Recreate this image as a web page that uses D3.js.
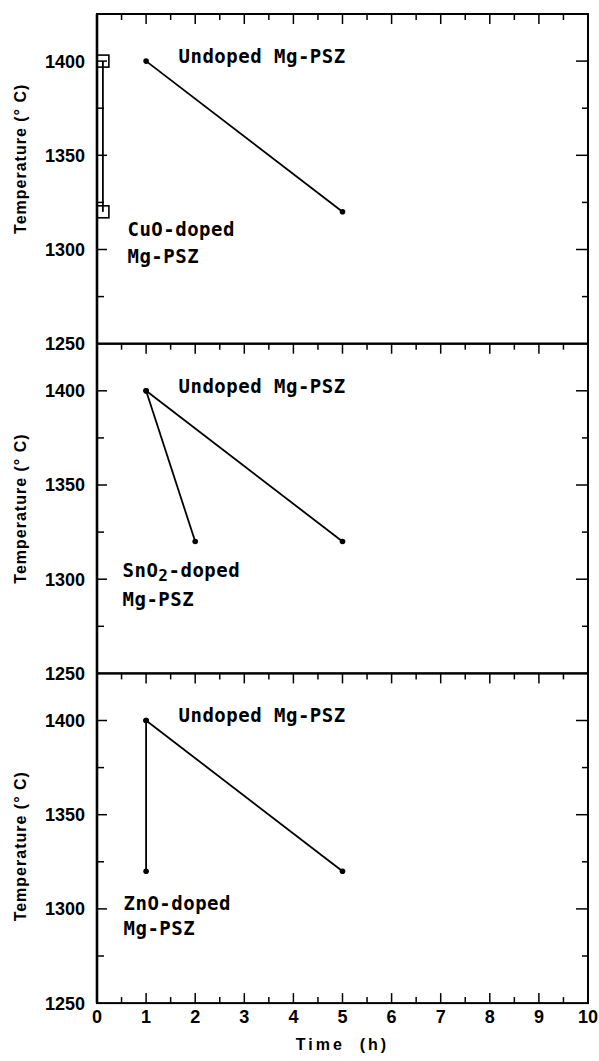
<!DOCTYPE html>
<html>
<head>
<meta charset="utf-8">
<script src="https://cdn.jsdelivr.net/npm/d3@7"></script>
<style>
  body { margin: 0; background: #fff; }
  svg { display: block; }
  .tick-num { font-family: 'Liberation Sans', Arial, sans-serif; font-weight: bold; font-size: 18px; }
  .title { font-family: 'Liberation Sans', Arial, sans-serif; font-weight: bold; font-size: 16px; }
  .note { font-family: 'DejaVu Sans Mono', monospace; font-weight: bold; font-size: 19px; letter-spacing: 0.5px; }
</style>
</head>
<body>
<div id="chart"></div>
<script>
// data
const timeTicks = [0, 1, 2, 3, 4, 5, 6, 7, 8, 9, 10];
const tempTicks = [1250, 1300, 1350, 1400];
const undopedTime = [1, 5];
const undopedTemp = [1400, 1320];
const cuoTime = [0.12, 0.12];
const cuoTemp = [1400, 1320];
const sno2Time = [1, 2];
const sno2Temp = [1400, 1320];
const znoTime = [1, 1];
const znoTemp = [1400, 1320];
const panelLabels = [
  ['CuO-doped', 'Mg-PSZ'],
  ['SnO2-doped', 'Mg-PSZ'],
  ['ZnO-doped', 'Mg-PSZ']
];

const toPts = (t, v) => t.map((d, i) => ({ t: d, v: v[i] }));
const panels = [
  { doped: toPts(cuoTime, cuoTemp), square: true, lab: panelLabels[0], labAt: [0.62, 1307, 1293], titleShift: -20 },
  { doped: toPts(sno2Time, sno2Temp), square: false, lab: panelLabels[1], labAt: [0.52, 1301, 1286], titleShift: 0 },
  { doped: toPts(znoTime, znoTemp), square: false, lab: panelLabels[2], labAt: [0.54, 1299.5, 1286], titleShift: 8 }
];

const W = 599, H = 1061;
const margin = { top: 14, right: 11, left: 97 };
const panelH = 329.7;
const width = W - margin.left - margin.right;

const svg = d3.select('#chart').append('svg')
  .attr('width', W).attr('height', H);

const x = d3.scaleLinear().domain([0, 10]).range([0, width]);
const y = d3.scaleLinear().domain([1250, 1425]).range([panelH, 0]);

const line = d3.line().x(d => x(d.t)).y(d => y(d.v));

panels.forEach((p, i) => {
  const g = svg.append('g')
    .attr('transform', 'translate(' + margin.left + ',' + (margin.top + i * panelH) + ')');

  // top ticks (every 0.5 h, pointing in)
  g.append('g').selectAll('line')
    .data(d3.range(0.5, 10, 0.5))
    .enter().append('line')
      .attr('x1', d => x(d)).attr('x2', d => x(d))
      .attr('y1', 0).attr('y2', d => d % 1 === 0 ? 10 : 6)
      .attr('stroke', '#000').attr('stroke-width', 1.5);

  // bottom ticks only on the last panel
  if (i === panels.length - 1) {
    g.append('g').selectAll('line')
      .data(d3.range(0.5, 10, 0.5))
      .enter().append('line')
        .attr('x1', d => x(d)).attr('x2', d => x(d))
        .attr('y1', panelH).attr('y2', d => panelH - (d % 1 === 0 ? 10 : 6))
        .attr('stroke', '#000').attr('stroke-width', 1.5);
  }

  // left / right ticks every 25
  const yt = d3.range(1275, 1425, 25);
  g.append('g').selectAll('line')
    .data(yt).enter().append('line')
      .attr('x1', 0).attr('x2', d => d % 50 === 0 ? 10 : 7)
      .attr('y1', d => y(d)).attr('y2', d => y(d))
      .attr('stroke', '#000').attr('stroke-width', 1.5);
  g.append('g').selectAll('line')
    .data(yt).enter().append('line')
      .attr('x1', width).attr('x2', d => width - (d % 50 === 0 ? 12 : 6))
      .attr('y1', d => y(d)).attr('y2', d => y(d))
      .attr('stroke', '#000').attr('stroke-width', 1.5);

  // frame
  g.append('rect')
    .attr('x', 0).attr('y', 0).attr('width', width).attr('height', panelH)
    .attr('fill', 'none').attr('stroke', '#000').attr('stroke-width', 2);
  g.append('line')
    .attr('x1', 0).attr('x2', 0).attr('y1', 0).attr('y2', panelH)
    .attr('stroke', '#000').attr('stroke-width', 2.6);

  // y tick labels
  g.append('g').selectAll('text')
    .data(tempTicks).enter().append('text')
      .attr('class', 'tick-num')
      .attr('x', -12).attr('y', d => y(d))
      .attr('dy', '0.36em')
      .attr('text-anchor', 'end')
      .text(d => d);

  // y title
  g.append('text')
    .attr('class', 'title')
    .attr('transform', 'translate(' + (-71) + ',' + (panelH / 2 + p.titleShift) + ') rotate(-90)')
    .attr('text-anchor', 'middle')
    .attr('letter-spacing', 1)
    .text('Temperature (° C)');

  // undoped series
  const und = toPts(undopedTime, undopedTemp);
  g.append('path').datum(und)
    .attr('d', line).attr('fill', 'none')
    .attr('stroke', '#000').attr('stroke-width', 1.8);
  g.selectAll('.udot').data(und).enter().append('circle')
    .attr('class', 'udot')
    .attr('cx', d => x(d.t)).attr('cy', d => y(d.v)).attr('r', 2.8)
    .attr('fill', '#000');

  // doped series
  g.append('path').datum(p.doped)
    .attr('d', line).attr('fill', 'none')
    .attr('stroke', '#000').attr('stroke-width', 1.8);
  if (p.square) {
    g.selectAll('.sq').data(p.doped).enter().append('rect')
      .attr('class', 'sq')
      .attr('x', d => x(d.t) - 6).attr('y', d => y(d.v) - 6)
      .attr('width', 12).attr('height', 12)
      .attr('fill', 'none').attr('stroke', '#000').attr('stroke-width', 1.6);
  } else {
    g.selectAll('.ddot').data(p.doped).enter().append('circle')
      .attr('class', 'ddot')
      .attr('cx', d => x(d.t)).attr('cy', d => y(d.v)).attr('r', 2.8)
      .attr('fill', '#000');
  }

  // labels
  g.append('text').attr('class', 'note')
    .attr('x', x(1.66)).attr('y', y(1399))
    .text('Undoped Mg-PSZ');

  const l1 = g.append('text').attr('class', 'note')
    .attr('x', x(p.labAt[0])).attr('y', y(p.labAt[1]));
  if (p.lab[0].indexOf('SnO2') === 0) {
    l1.append('tspan').text('SnO');
    l1.append('tspan').attr('dy', 4).attr('font-size', 16).text('2');
    l1.append('tspan').attr('dy', -4).text('-doped');
  } else {
    l1.text(p.lab[0]);
  }
  g.append('text').attr('class', 'note')
    .attr('x', x(p.labAt[0])).attr('y', y(p.labAt[2]))
    .text(p.lab[1]);
});

// x axis labels under the last panel
const bottom = margin.top + panels.length * panelH;
svg.append('g').selectAll('text')
  .data(timeTicks).enter().append('text')
    .attr('class', 'tick-num')
    .attr('x', d => margin.left + x(d))
    .attr('y', bottom + 20)
    .attr('text-anchor', 'middle')
    .text(d => d);

svg.append('text')
  .attr('class', 'title')
  .attr('x', margin.left + width / 2)
  .attr('y', bottom + 47)
  .attr('text-anchor', 'middle')
  .attr('letter-spacing', 3)
  .style('white-space', 'pre')
  .text('Time  (h)');
</script>
</body>
</html>
